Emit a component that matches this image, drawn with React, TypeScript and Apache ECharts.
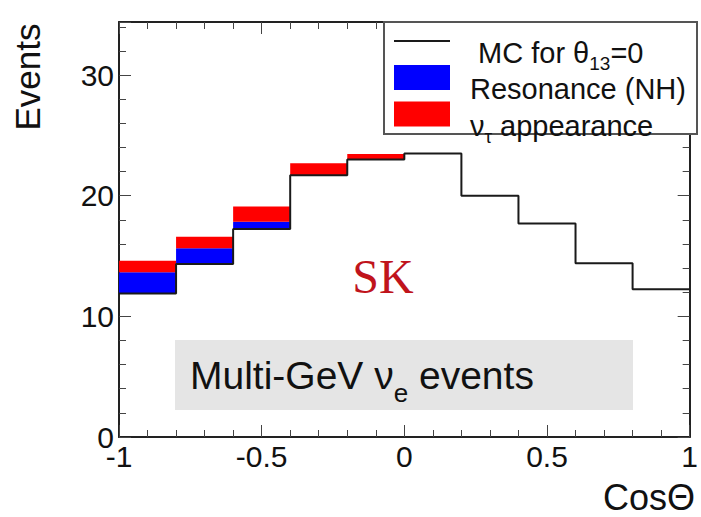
import React, { useEffect, useRef } from "react";
import * as echarts from "echarts";

const binEdges = [-1, -0.8, -0.6, -0.4, -0.2, 0, 0.2, 0.4, 0.6, 0.8, 1];
const mcEvents = [11.9, 14.35, 17.25, 21.7, 23.0, 23.5, 20.0, 17.7, 14.4, 12.25];
const resonanceEvents = [1.75, 1.3, 0.6, 0, 0, 0, 0, 0, 0, 0];
const tauEvents = [0.95, 0.95, 1.25, 1.0, 0.45, 0.05, 0, 0, 0, 0];

const mcName = "MC for θ13=0";
const resName = "Resonance (NH)";
const tauName = "ντ appearance";

const FONT = "Liberation Sans, Arial, Helvetica, sans-serif";

export default function App() {
  const ref = useRef<HTMLDivElement>(null);
  useEffect(() => {
    if (!ref.current) return;
    const chart = echarts.init(ref.current, null, { renderer: "svg" });

    const mcLine = binEdges.slice(0, mcEvents.length).map((e, i) => [e, mcEvents[i]]);
    mcLine.push([binEdges[binEdges.length - 1], mcEvents[mcEvents.length - 1]]);

    const resData = mcEvents.map((v, i) => [binEdges[i], binEdges[i + 1], v, v + resonanceEvents[i]]);
    const tauData = mcEvents.map((v, i) => [
      binEdges[i],
      binEdges[i + 1],
      v + resonanceEvents[i],
      v + resonanceEvents[i] + tauEvents[i],
    ]);

    const makeRender = (color: string) => (params: any, api: any) => {
      const p0 = api.coord([api.value(0), api.value(3)]);
      const p1 = api.coord([api.value(1), api.value(2)]);
      const h = p1[1] - p0[1];
      if (h <= 0.01) return null;
      return {
        type: "rect",
        shape: { x: p0[0], y: p0[1], width: p1[0] - p0[0], height: h },
        style: { fill: color },
      };
    };

    const frameColor = "#222";
    const xBase = {
      type: "value",
      min: -1,
      max: 1,
      interval: 0.5,
      splitLine: { show: false },
      axisLine: { show: true, onZero: false, lineStyle: { color: frameColor, width: 2 } },
      axisTick: { show: true, inside: true, length: 12, lineStyle: { color: "#444", width: 1 } },
      minorTick: { show: true, splitNumber: 5, length: 7, lineStyle: { color: "#444", width: 1 } },
    };
    const yBase = {
      type: "value",
      min: 0,
      max: 34.4,
      interval: 10,
      splitLine: { show: false },
      axisLine: { show: true, onZero: false, lineStyle: { color: frameColor, width: 2 } },
      axisTick: { show: true, inside: true, length: 12, lineStyle: { color: "#444", width: 1 } },
      minorTick: { show: true, splitNumber: 5, length: 7, lineStyle: { color: "#444", width: 1 } },
    };

    const option: any = {
      animation: false,
      backgroundColor: "#fff",
      grid: { left: 119, right: 6, top: 22, bottom: 80 },
      xAxis: [
        {
          ...xBase,
          position: "bottom",
          axisLabel: { show: true, fontSize: 30, lineHeight: 22, color: "#111", fontFamily: FONT, margin: 8 },
        },
        { ...xBase, position: "top", axisLabel: { show: false } },
      ],
      yAxis: [
        {
          ...yBase,
          position: "left",
          axisLabel: {
            show: true,
            fontSize: 30,
            lineHeight: 22,
            color: "#111",
            fontFamily: FONT,
            margin: 5,
            showMaxLabel: false,
          },
        },
        { ...yBase, position: "right", axisLabel: { show: false } },
      ],
      legend: {
        left: 394,
        top: 38,
        z: 6,
        orient: "vertical",
        itemWidth: 56,
        itemHeight: 25,
        itemGap: -10,
        padding: 0,
        selectedMode: false,
        data: [
          { name: mcName, icon: "path://M0,0H56V2H0Z" },
          { name: resName, icon: "rect" },
          { name: tauName, icon: "rect" },
        ],
        formatter: (name: string) => {
          if (name === mcName) return "{n| MC for θ}{s|13}{n|=0}";
          if (name === tauName) return "{n|ν}{s|τ}{n| appearance}";
          return "{n|" + name + "}";
        },
        textStyle: {
          fontSize: 29,
          color: "#111",
          fontFamily: FONT,
          padding: [24, 0, 0, 15],
          rich: {
            n: {
              fontSize: 29,
              lineHeight: 30,
              padding: [0, 0, 8, 0],
              verticalAlign: "top",
              fontFamily: FONT,
              color: "#111",
            },
            s: {
              fontSize: 19,
              lineHeight: 22,
              padding: [16, 0, 0, 0],
              verticalAlign: "top",
              fontFamily: FONT,
              color: "#111",
            },
          },
        },
      },
      graphic: [
        {
          type: "rect",
          z: 5,
          shape: { x: 384, y: 22, width: 313, height: 112 },
          style: { fill: "#fff", stroke: "#555", lineWidth: 2 },
        },
        {
          type: "rect",
          shape: { x: 175, y: 340, width: 458, height: 70 },
          style: { fill: "#e5e5e5" },
          z: 1,
        },
        {
          type: "text",
          x: 190,
          y: 377,
          z: 2,
          style: {
            text: "{n|Multi-GeV ν}{s|e}{n| events}",
            verticalAlign: "middle",
            align: "left",
            fill: "#111",
            rich: {
              n: {
                fontSize: 39,
                lineHeight: 42,
                padding: [0, 0, 12, 0],
                verticalAlign: "top",
                fontFamily: FONT,
                fill: "#111",
              },
              s: {
                fontSize: 26,
                lineHeight: 30,
                padding: [24, 0, 0, 0],
                verticalAlign: "top",
                fontFamily: FONT,
                fill: "#111",
              },
            },
          },
        },
        {
          type: "text",
          x: 383,
          y: 276,
          z: 2,
          style: {
            text: "SK",
            fontSize: 48,
            fontFamily: "Liberation Serif, DejaVu Serif, serif",
            fill: "#c0141c",
            align: "center",
            verticalAlign: "middle",
          },
        },
        {
          type: "text",
          x: 27,
          y: 77,
          rotation: Math.PI / 2,
          style: {
            text: "Events",
            fontSize: 35,
            fontFamily: FONT,
            fill: "#111",
            align: "center",
            verticalAlign: "middle",
          },
        },
        {
          type: "text",
          x: 695,
          y: 497,
          style: {
            text: "CosΘ",
            fontSize: 36,
            fontFamily: FONT,
            fill: "#111",
            align: "right",
            verticalAlign: "middle",
          },
        },
      ],
      series: [
        {
          name: resName,
          type: "custom",
          xAxisIndex: 0,
          yAxisIndex: 0,
          itemStyle: { color: "#0000ff" },
          renderItem: makeRender("#0000ff"),
          encode: { x: [0, 1], y: [2, 3] },
          data: resData,
          z: 2,
        },
        {
          name: tauName,
          type: "custom",
          xAxisIndex: 0,
          yAxisIndex: 0,
          itemStyle: { color: "#ff0000" },
          renderItem: makeRender("#ff0000"),
          encode: { x: [0, 1], y: [2, 3] },
          data: tauData,
          z: 2,
        },
        {
          name: mcName,
          type: "line",
          step: "end",
          xAxisIndex: 0,
          yAxisIndex: 0,
          symbol: "none",
          showSymbol: false,
          lineStyle: { color: "#1a1a1a", width: 2 },
          itemStyle: { color: "#1a1a1a" },
          data: mcLine,
          z: 3,
        },
      ],
    };
    chart.setOption(option);
    return () => chart.dispose();
  }, []);
  return (
    <div
      ref={ref}
      style={{ position: "fixed", left: 0, top: 0, width: 701, height: 517, background: "#fff" }}
    />
  );
}
